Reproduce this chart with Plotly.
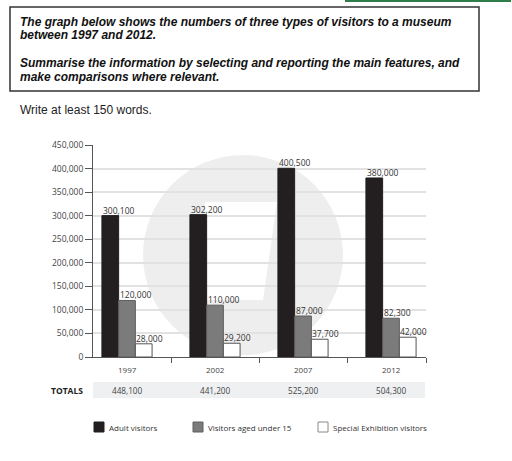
import plotly.graph_objects as go

years = ["1997", "2002", "2007", "2012"]
series_names = ["Adult visitors", "Visitors aged under 15", "Special Exhibition visitors"]
adult = [300100, 302200, 400500, 380000]
under15 = [120000, 110000, 87000, 82300]
special = [28000, 29200, 37700, 42000]
totals = ["448,100", "441,200", "525,200", "504,300"]
y_ticks = list(range(0, 450001, 50000))

series_values = [adult, under15, special]
fills = ["#231f20", "#7b7b7b", "#ffffff"]
lines = ["#231f20", "#5e5e5e", "#555555"]

W, H = 512, 461
L, R, T, B = 93, 426, 145, 357  # plot area in pixels


def px(x):
    return (x - L) / (R - L)


def py(y):
    return (B - y) / (B - T)


fig = go.Figure()
xs = list(range(len(years)))
for name, vals, fc, lc in zip(series_names, series_values, fills, lines):
    fig.add_trace(go.Bar(
        x=xs, y=vals, name=name, marker=dict(color=fc, line=dict(color=lc, width=1)),
        showlegend=False, hoverinfo="skip",
    ))

group_w = 0.57
bw = group_w / 3
annotations = []
# value labels above bars (left aligned to bar left edge)
for k, vals in enumerate(series_values):
    for i, v in enumerate(vals):
        annotations.append(dict(
            x=i - group_w / 2 + k * bw, y=v, xref="x", yref="y",
            text=f"{v:,}", showarrow=False, xanchor="left", yanchor="bottom",
            borderpad=0, yshift=-1,
            font=dict(family="Open Sans", size=8.5, color="#333333"),
        ))

# year labels
for i, yr in enumerate(years):
    annotations.append(dict(
        x=i, y=py(369), xref="x", yref="paper", text=yr, showarrow=False,
        xanchor="center", yanchor="middle",
        font=dict(family="Open Sans", size=8, color="#444444"),
    ))

# totals row
annotations.append(dict(
    x=px(85), y=py(390), xref="paper", yref="paper", text="<b>TOTALS</b>",
    showarrow=False, xanchor="right", yanchor="middle",
    font=dict(family="Open Sans", size=8.5, color="#222222"),
))
for i, t in enumerate(totals):
    annotations.append(dict(
        x=i, y=py(390), xref="x", yref="paper", text=t, showarrow=False,
        xanchor="center", yanchor="middle",
        font=dict(family="Open Sans", size=8.2, color="#444444"),
    ))

# header texts
header_lines = [
    ("<b><i>The graph below shows the numbers of three types of visitors to a museum</i></b>", 22),
    ("<b><i>between 1997 and 2012.</i></b>", 35),
    ("<b><i>Summarise the information by selecting and reporting the main features, and</i></b>", 63),
    ("<b><i>make comparisons where relevant.</i></b>", 77),
]
for txt, yy in header_lines:
    annotations.append(dict(
        x=px(18), y=py(yy), xref="paper", yref="paper", text=txt, showarrow=False,
        xanchor="left", yanchor="middle",
        font=dict(family="Liberation Sans", size=12, color="#111111"),
    ))
annotations.append(dict(
    x=px(18), y=py(110), xref="paper", yref="paper", text="Write at least 150 words.",
    showarrow=False, xanchor="left", yanchor="middle",
    font=dict(family="Liberation Sans", size=12, color="#222222"),
))

# legend (manual)
legend_x = [94, 193, 318]
shapes = []
for name, fc, lc, lx in zip(series_names, fills, lines, legend_x):
    shapes.append(dict(type="rect", xref="paper", yref="paper",
                       x0=px(lx), x1=px(lx + 10), y0=py(432), y1=py(422),
                       fillcolor=fc, line=dict(color=lc if fc != "#ffffff" else "#888888", width=1)))
    annotations.append(dict(
        x=px(lx + 13), y=py(427), xref="paper", yref="paper", text=name, showarrow=False,
        xanchor="left", yanchor="middle",
        font=dict(family="Open Sans", size=8, color="#333333"),
    ))

# watermark circle + inner white shape
shapes.append(dict(type="circle", xref="paper", yref="paper", layer="below",
                   x0=px(143), x1=px(343), y0=py(355), y1=py(155),
                   fillcolor="#eeeeee", line=dict(width=0)))
shapes.append(dict(type="path", xref="paper", yref="paper", layer="below",
                   path=f"M {px(205)},{py(202)} L {px(277)},{py(202)} L {px(263)},{py(300)} L {px(205)},{py(300)} Z",
                   fillcolor="#ffffff", line=dict(width=0)))

# totals band
shapes.append(dict(type="rect", xref="paper", yref="paper", layer="below",
                   x0=px(93), x1=px(425), y0=py(398), y1=py(382),
                   fillcolor="#eef0f2", line=dict(width=0)))

# header box
shapes.append(dict(type="rect", xref="paper", yref="paper",
                   x0=px(10), x1=px(479), y0=py(91), y1=py(7),
                   fillcolor="rgba(0,0,0,0)", line=dict(color="#333333", width=1.5)))
# green border fragment at top
shapes.append(dict(type="path", xref="paper", yref="paper",
                   path=f"M {px(346)},{py(-2)} L {px(346)},{py(1)} L {px(510)},{py(1)} L {px(510)},{py(-2)}",
                   line=dict(color="#2f7d4a", width=2)))

fig.update_layout(
    width=W, height=H,
    margin=dict(l=L, r=W - R, t=T, b=H - B),
    paper_bgcolor="white", plot_bgcolor="rgba(0,0,0,0)",
    barmode="group", bargap=1 - group_w, bargroupgap=0,
    shapes=shapes, annotations=annotations,
    xaxis=dict(
        range=[(L - 127) / 88, (R - 127) / 88], showgrid=False, zeroline=False,
        tickvals=[0.5, 1.5, 2.5, (R - 127) / 88], showticklabels=False,
        ticks="outside", ticklen=5, tickcolor="#555555",
        showline=True, linecolor="#555555", linewidth=1,
    ),
    yaxis=dict(
        range=[0, 450000], tickvals=y_ticks, tickformat=",",
        showgrid=True, gridcolor="#e2e2e2", gridwidth=1.5, zeroline=False,
        ticks="outside", ticklen=7, tickcolor="#555555",
        showline=True, linecolor="#555555", linewidth=1,
        tickfont=dict(family="Open Sans", size=8.5, color="#444444"),
    ),
)

fig.write_html("out.html", config={"displayModeBar": False},
               post_script="document.body.style.margin='0';")
